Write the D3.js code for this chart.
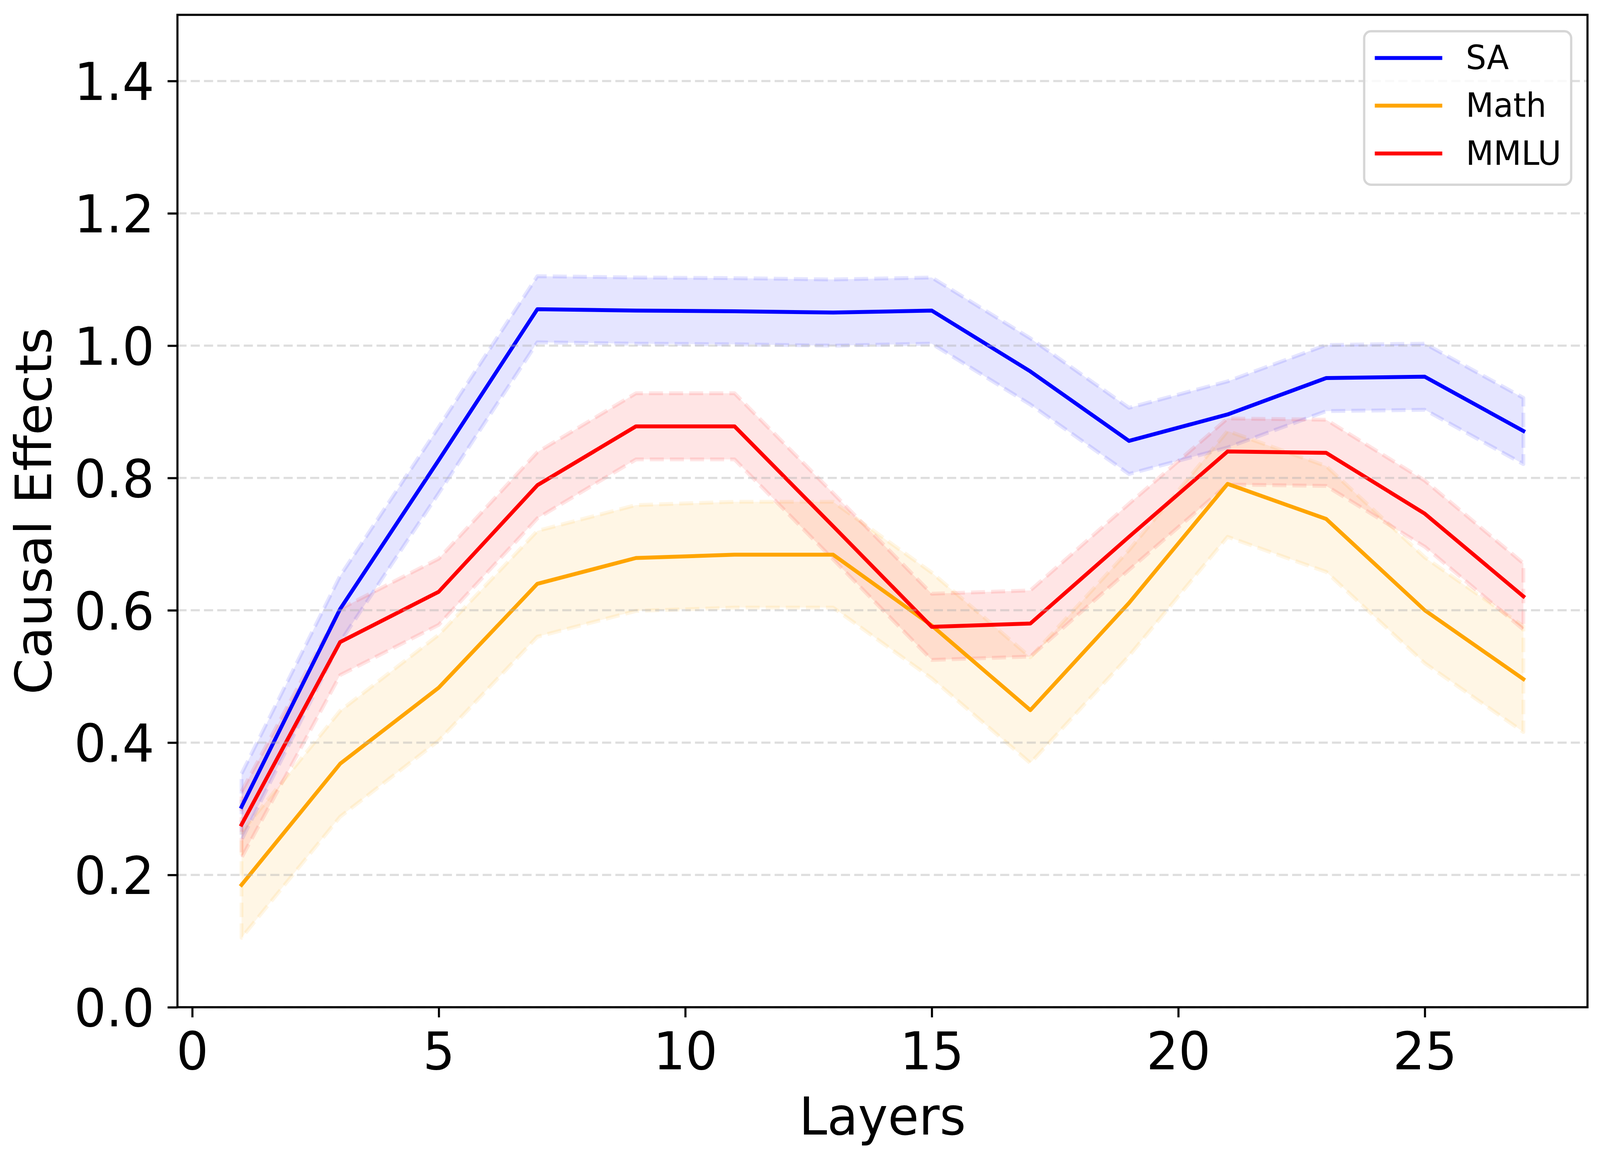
<!DOCTYPE html>
<html>
<head>
<meta charset="utf-8">
<script src="https://cdn.jsdelivr.net/npm/d3@7"></script>
<style>
  html, body { margin: 0; padding: 0; background: #ffffff; overflow: hidden; width: 100%; height: 100%; }
  svg { display: block; position: absolute; left: 0; top: 0; }
  text { font-family: "DejaVu Sans", sans-serif; }
</style>
</head>
<body>
<svg id="chart" viewBox="0 0 4220 2942" preserveAspectRatio="none"></svg>
<script>
// ---- data ----
const layers   = [1, 3, 5, 7, 9, 11, 13, 15, 17, 19, 21, 23, 25, 27];
const saMean   = [0.303, 0.602, 0.827, 1.055, 1.053, 1.052, 1.050, 1.053, 0.961, 0.856, 0.896, 0.951, 0.953, 0.871];
const mathMean = [0.185, 0.368, 0.483, 0.640, 0.679, 0.684, 0.684, 0.577, 0.449, 0.611, 0.791, 0.738, 0.600, 0.496];
const mmluMean = [0.276, 0.552, 0.628, 0.789, 0.878, 0.878, 0.727, 0.575, 0.580, 0.711, 0.840, 0.838, 0.746, 0.621];
const saStd    = [0.05, 0.05, 0.05, 0.05, 0.05, 0.05, 0.05, 0.05, 0.05, 0.05, 0.05, 0.05, 0.05, 0.05];
const mathStd  = [0.08, 0.08, 0.08, 0.08, 0.08, 0.08, 0.08, 0.08, 0.08, 0.08, 0.08, 0.08, 0.08, 0.08];
const mmluStd  = [0.05, 0.05, 0.05, 0.05, 0.05, 0.05, 0.05, 0.05, 0.05, 0.05, 0.05, 0.05, 0.05, 0.05];
const seriesNames  = ["SA", "Math", "MMLU"];
const seriesColors = ["#0000ff", "#ffa500", "#ff0000"];
const xTickValues = [0, 5, 10, 15, 20, 25];
const yTickValues = [0.0, 0.2, 0.4, 0.6, 0.8, 1.0, 1.2, 1.4];
const xLabel = "Layers";
const yLabel = "Causal Effects";

// ---- layout ----
const W = 4220, H = 2942;
const plot = { left: 468, right: 4187, top: 38, bottom: 2579 };
const fontPx = 133;
const tickLen = 26;

const svg = d3.select("#chart");
function fit() {
  svg.attr("width", window.innerWidth).attr("height", window.innerHeight);
}
fit();
window.addEventListener("resize", fit);

const x = d3.scaleLinear().domain([-0.3, 28.3]).range([plot.left, plot.right]);
const y = d3.scaleLinear().domain([0, 1.5]).range([plot.bottom, plot.top]);

const series = [
  { name: seriesNames[0], color: seriesColors[0], mean: saMean,   std: saStd },
  { name: seriesNames[1], color: seriesColors[1], mean: mathMean, std: mathStd },
  { name: seriesNames[2], color: seriesColors[2], mean: mmluMean, std: mmluStd }
];

svg.append("rect").attr("x", 0).attr("y", 0).attr("width", W).attr("height", H).attr("fill", "#fff");

// clip
svg.append("defs").append("clipPath").attr("id", "clip")
  .append("rect").attr("x", plot.left).attr("y", plot.top)
  .attr("width", plot.right - plot.left).attr("height", plot.bottom - plot.top);

const plotG = svg.append("g").attr("clip-path", "url(#clip)");

// bands (drawn below grid and lines)
const area = d3.area()
  .x(d => x(d.l))
  .y0(d => y(d.m - d.s))
  .y1(d => y(d.m + d.s));

series.forEach(s => {
  const pts = layers.map((l, i) => ({ l: l, m: s.mean[i], s: s.std[i] }));
  plotG.append("path")
    .attr("d", area(pts))
    .attr("fill", s.color)
    .attr("fill-opacity", 0.1)
    .attr("stroke", s.color)
    .attr("stroke-opacity", 0.1)
    .attr("stroke-width", 10)
    .attr("stroke-dasharray", "37,16")
    .attr("stroke-linejoin", "round");
});

// horizontal grid
const gridG = svg.append("g");
yTickValues.forEach(v => {
  gridG.append("line")
    .attr("x1", plot.left).attr("x2", plot.right)
    .attr("y1", y(v)).attr("y2", y(v))
    .attr("stroke", "#b0b0b0")
    .attr("stroke-opacity", 0.42)
    .attr("stroke-width", 5.5)
    .attr("stroke-dasharray", "24,11");
});

// lines
const line = d3.line().x(d => x(d.l)).y(d => y(d.m));
series.forEach(s => {
  const pts = layers.map((l, i) => ({ l: l, m: s.mean[i] }));
  plotG.append("path")
    .attr("d", line(pts))
    .attr("fill", "none")
    .attr("stroke", s.color)
    .attr("stroke-width", 10)
    .attr("stroke-linejoin", "round")
    .attr("stroke-linecap", "square");
});

// axes
const xAxis = d3.axisBottom(x).tickValues(xTickValues).tickFormat(d3.format("d"))
  .tickSize(tickLen).tickPadding(36);
const yAxis = d3.axisLeft(y).tickValues(yTickValues).tickFormat(d3.format(".1f"))
  .tickSize(tickLen).tickPadding(34);

const gx = svg.append("g").attr("transform", `translate(0,${plot.bottom})`).call(xAxis);
const gy = svg.append("g").attr("transform", `translate(${plot.left},0)`).call(yAxis);

[gx, gy].forEach(g => {
  g.select(".domain").remove();
  g.selectAll(".tick line").attr("stroke", "#000").attr("stroke-width", 5.5);
  g.selectAll(".tick text")
    .attr("fill", "#000")
    .style("font-size", fontPx + "px")
    .style("font-family", "'DejaVu Sans', sans-serif");
});
gx.selectAll(".tick text").attr("dy", null)
  .attr("y", 2738 - plot.bottom)
  .attr("dominant-baseline", "alphabetic");
gy.selectAll(".tick text").attr("x", 407 - plot.left).attr("dy", "0.365em");

// spines (box)
svg.append("rect")
  .attr("x", plot.left).attr("y", plot.top)
  .attr("width", plot.right - plot.left).attr("height", plot.bottom - plot.top)
  .attr("fill", "none").attr("stroke", "#000").attr("stroke-width", 5.5);

// axis labels
svg.append("text")
  .attr("x", (plot.left + plot.right) / 2)
  .attr("y", 2905)
  .attr("text-anchor", "middle")
  .style("font-size", fontPx + "px")
  .attr("fill", "#000")
  .text(xLabel);

svg.append("text")
  .attr("transform", `translate(135,${(plot.top + plot.bottom) / 2}) rotate(-90)`)
  .attr("text-anchor", "middle")
  .style("font-size", fontPx + "px")
  .attr("fill", "#000")
  .text(yLabel);

// legend
const leg = { x: 3598, y: 80, w: 546, h: 393 };
const legG = svg.append("g");
legG.append("rect")
  .attr("x", leg.x).attr("y", leg.y).attr("width", leg.w).attr("height", leg.h)
  .attr("rx", 18).attr("ry", 18)
  .attr("fill", "#ffffff").attr("fill-opacity", 0.8)
  .attr("stroke", "#d6d6d6").attr("stroke-width", 6);

const legRowY = [148.5, 270.5, 393];
series.forEach((s, i) => {
  legG.append("line")
    .attr("x1", 3631).attr("x2", 3799)
    .attr("y1", legRowY[i]).attr("y2", legRowY[i])
    .attr("stroke", s.color).attr("stroke-width", 10)
    .attr("stroke-linecap", "square");
  legG.append("text")
    .attr("x", 3866)
    .attr("y", legRowY[i] + 29)
    .style("font-size", "85px")
    .attr("fill", "#000")
    .text(s.name);
});
</script>
</body>
</html>
